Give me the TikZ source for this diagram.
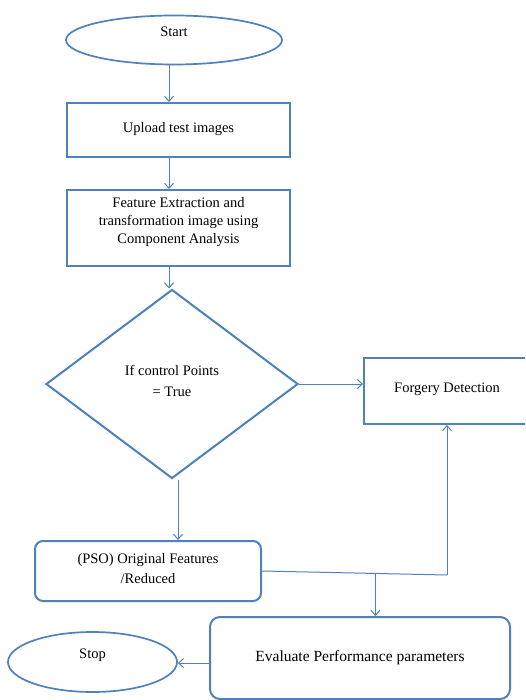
\documentclass[tikz,border=0pt]{standalone}
\usepackage{fontspec}
\setmainfont{Liberation Serif}
\usetikzlibrary{shapes.geometric,arrows.meta}
\definecolor{flowblue}{HTML}{4F81BD}
\begin{document}
\begin{tikzpicture}[x=1pt, y=-1pt,
                        stepbox/.style={
                        shape=rectangle,
                        draw=flowblue, line width=2pt,
                        inner sep=0pt,
                        align=center,
                        font=\fontsize{14.5}{18}\selectfont},
                        terminal/.style={
                        shape=ellipse,
                        draw=flowblue, line width=1.7pt,
                        inner sep=0pt,
                        font=\fontsize{14.5}{18}\selectfont},
                        arr/.style={
                        draw=flowblue, line width=1pt,
                        -{Straight Barb[length=5pt,width=9pt]}}]
                        \fill [white] (0,0) rectangle (525,700);
                        \useasboundingbox (0,0) rectangle (525,700);
                        \clip (0,0) rectangle (525,700);
                        \node [terminal, minimum width=216pt, minimum height=49pt, text depth=16pt] (start) at (174,40) {Start};
                        \node [stepbox, minimum width=223pt, minimum height=54pt, text depth=6pt] (upload) at (178.5,130) {Upload test images};
                        \node [stepbox, minimum width=223pt, minimum height=76pt, text depth=15pt] (feature) at (178.5,228) {Feature Extraction and\\transformation image using\\Component Analysis};
                        \node [stepbox, shape=diamond, minimum width=252pt, minimum height=189pt, text depth=7pt,
                               font=\fontsize{14.5}{21}\selectfont] (decision) at (172,384) {If control Points\\= True};
                        \node [stepbox, minimum width=166pt, minimum height=66pt, text depth=7.5pt] (forgery) at (447,391) {Forgery Detection};
                        \node [stepbox, rounded corners=8pt, minimum width=226pt, minimum height=60pt, text depth=6pt,
                               font=\fontsize{14.5}{20}\selectfont] (pso) at (148,571) {(PSO) Original Features\\/Reduced};
                        \node [stepbox, rounded corners=10pt, minimum width=300pt, minimum height=82pt,
                               font=\fontsize{15.5}{18}\selectfont] (evaluate) at (360,658) {Evaluate Performance parameters};
                        \node [terminal, minimum width=169pt, minimum height=60pt, text depth=17pt] (stop) at (92.5,662) {Stop};
                        \coordinate (joint) at (447,575);
                        \path (pso.east) -- (joint) coordinate [pos=0.613] (split);
                        \draw [arr] ([xshift=-5pt]start.south) -- ([xshift=-5pt]start.south |- upload.north);
                        \draw [arr] ([xshift=-9.5pt]upload.south) -- ([xshift=-9.5pt]upload.south |- feature.north);
                        \draw [arr] ([xshift=-9.5pt]feature.south) -- ([xshift=-9.5pt]feature.south |- decision.north);
                        \draw [arr] (decision.east) -- (decision.east -| forgery.west);
                        \draw [arr] ([xshift=6pt]decision.south) -- ([xshift=6pt]decision.south |- pso.north);
                        \draw [draw=flowblue, line width=1pt] (pso.east) -- (joint);
                        \draw [arr] (joint) -- (forgery.south);
                        \draw [arr] (split) -- (split |- evaluate.north);
                        \draw [arr] ([yshift=-5pt]evaluate.west) -- ([yshift=-5pt]evaluate.west -| stop.east);
                \end{tikzpicture}
\end{document}
